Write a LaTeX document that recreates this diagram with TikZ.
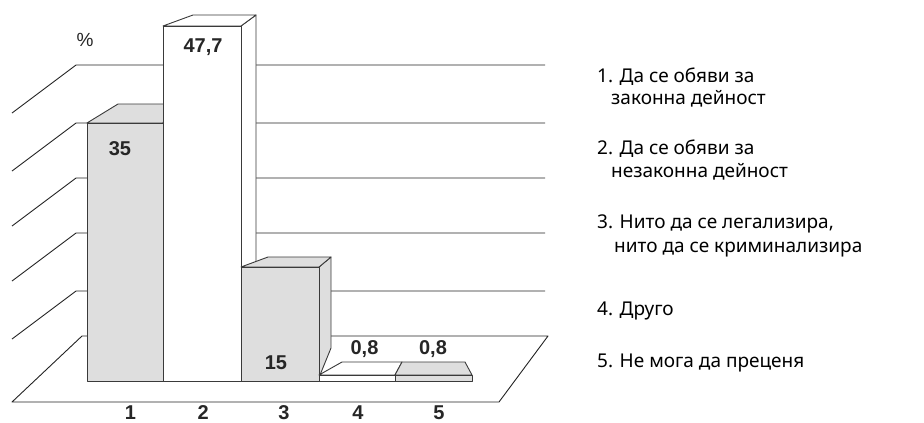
\documentclass[tikz,border=0pt]{standalone}
\usepackage{fontspec}
\setmainfont{Liberation Sans}
\newfontfamily\bgfont[Script=Cyrillic,Language=Bulgarian]{Noto Sans}
\definecolor{barfill}{HTML}{DEDEDE}
\definecolor{edgec}{HTML}{3A3A3A}
\definecolor{gridc}{HTML}{222222}
\begin{document}
\begin{tikzpicture}[x=1pt,y=-1pt,line join=round,
  gridline/.style={draw=gridc,line width=0.9pt},
  barface/.style={draw=edgec,line width=0.9pt},
  val/.style={font=\fontsize{20}{24}\selectfont\bfseries,text=black!85,inner sep=0pt},
  leg/.style={font=\bgfont\fontsize{19}{23}\selectfont,anchor=base west,inner sep=0pt}]
\useasboundingbox (0,0) rectangle (924,423);
% floor
\draw[gridline] (12,402) -- (499,402) -- (548,336) -- (82,336) -- cycle;
% wall grid
\foreach \y in {65,123,178,233,291} {\draw[gridline] (12,\y+48) -- (76,\y) -- (545,\y);}
% bar 1
\draw[barface,fill=barfill] (87,123) -- (118,104) -- (170,104) -- (163,123) -- cycle;
\draw[barface,fill=barfill] (87,123) rectangle (163,381);
% bar 2
\draw[barface,fill=white] (241,26) -- (256,15) -- (256,372) -- (241,381) -- cycle;
\draw[barface,fill=white] (163,26) -- (193,15) -- (256,15) -- (241,26) -- cycle;
\draw[barface,fill=white] (163,26) rectangle (241,381);
% bar 3
\draw[barface,fill=barfill] (319,267) -- (331,257) -- (331,348) -- (320,375) -- (319,381) -- cycle;
\draw[barface,fill=barfill] (241,267) -- (268,257) -- (331,257) -- (319,267) -- cycle;
\draw[barface,fill=barfill] (241,267) rectangle (319,381);
% bar 4
\draw[barface,fill=white] (319,375) -- (342,362) -- (402,362) -- (395,375) -- cycle;
\draw[barface,fill=white] (319,375) rectangle (395,381);
% bar 5
\draw[barface,fill=barfill] (395,375) -- (402,362) -- (465,362) -- (472,375) -- cycle;
\draw[barface,fill=barfill] (395,375) rectangle (472,381);
% values
\node[val,font=\fontsize{19}{24}\selectfont] (pct) at (85,40) {\%};
\node[val] (v1) at (120,149) {35};
\node[val] (v2) at (203,47) {47,7};
\node[val] (v3) at (276,363) {15};
\node[val] (v4) at (364.5,349) {0,8};
\node[val] (v5) at (433,349) {0,8};
% axis labels
\node[val] (a1) at (130.5,412.5) {1};
\node[val] (a2) at (203.3,412.5) {2};
\node[val] (a3) at (284,412.5) {3};
\node[val] (a4) at (358,412.5) {4};
\node[val] (a5) at (439,412.5) {5};
% legend
\node[leg] (l1a) at (597,82) {1. Да се обяви за};
\node[leg] (l1b) at (611,104) {законна дейност};
\node[leg] (l2a) at (597,154) {2. Да се обяви за};
\node[leg] (l2b) at (611,177) {незаконна дейност};
\node[leg] (l3a) at (597,228) {3. Нито да се легализира,};
\node[leg] (l3b) at (614,252) {нито да се криминализира};
\node[leg] (l4) at (597,315) {4. Друго};
\node[leg] (l5) at (597,367) {5. Не мога да преценя};
\end{tikzpicture}
\end{document}
